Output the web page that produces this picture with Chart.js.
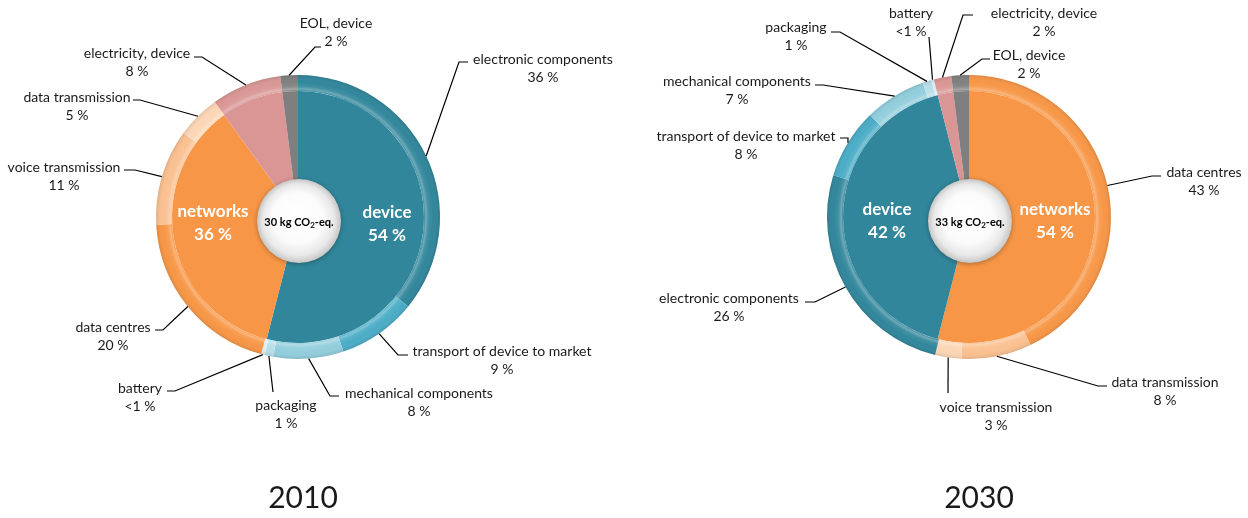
<!DOCTYPE html>
<html>
<head>
<meta charset="utf-8">
<script src="https://cdn.jsdelivr.net/npm/chart.js@4.4.1/dist/chart.umd.min.js"></script>
<style>
  body { margin: 0; background: #fff; width: 1248px; height: 518px; overflow: hidden; position: relative; font-family: Lato, sans-serif; }
  canvas { position: absolute; top: 0; }
  .year { position: absolute; top: 478px; width: 200px; text-align: center; font-size: 30px; color: #1a1a1a; }
</style>
</head>
<body>
<canvas id="pie2010" width="624" height="518" style="left:0"></canvas>
<canvas id="pie2030" width="624" height="518" style="left:624px"></canvas>
<div class="year" style="left:203px">2010</div>
<div class="year" style="left:879px">2030</div>

<script>
// ---- data: 2010 ----
const groups2010 = ['device', 'networks', 'electricity, device', 'EOL, device'];
const groupPct2010 = [54, 36, 8, 2];
const parts2010 = ['electronic components', 'transport of device to market', 'mechanical components',
  'packaging', 'battery', 'data centres', 'voice transmission', 'data transmission',
  'electricity, device', 'EOL, device'];
const partPct2010 = [36, 9, 8, 1, 0.4, 20, 11, 5, 8, 2];
const total2010 = '30';

// ---- data: 2030 ----
const groups2030 = ['networks', 'device', 'electricity, device', 'EOL, device'];
const groupPct2030 = [54, 42, 2, 2];
const parts2030 = ['data centres', 'data transmission', 'voice transmission', 'electronic components',
  'transport of device to market', 'mechanical components', 'packaging', 'battery',
  'electricity, device', 'EOL, device'];
const partPct2030 = [43, 8, 3, 26, 8, 7, 1, 0.3, 2, 2];
const total2030 = '33';

// colours
const TEAL = '#31869b', ORANGE = '#f79646', PINK = '#d99694', GREY = '#7f7f7f';
const groupColors2010 = [TEAL, ORANGE, PINK, GREY];
const partColors2010 = [TEAL, '#4bacc6', '#92cddc', '#b7dee8', '#daeef3', ORANGE, '#fac090', '#fcd5b4', PINK, GREY];
const groupColors2030 = [ORANGE, TEAL, PINK, GREY];
const partColors2030 = [ORANGE, '#fac090', '#fcd5b4', TEAL, '#4bacc6', '#92cddc', '#b7dee8', '#daeef3', PINK, GREY];

// label layout (page coords): t = text centre of first line, e = elbow, s = stub end x
const layout2010 = [
  { t: [543, 59], e: [459, 62], s: 468 },
  { t: [502, 351], e: [398, 355], s: 408 },
  { t: [419, 393], e: [330, 396], s: 339 },
  { t: [286, 405], e: [273, 392], s: 273 },
  { t: [140, 388], e: [175, 391], s: 167 },
  { t: [113, 327], e: [163, 330], s: 155 },
  { t: [64, 167], e: [135, 170], s: 124 },
  { t: [77, 97], e: [140, 100], s: 133 },
  { t: [137, 53], e: [202, 57], s: 194 },
  { t: [336, 23], e: [315, 47], s: 321 }
];
const layout2030 = [
  { t: [1204, 172], e: [1152, 176], s: 1161 },
  { t: [1165, 382], e: [1098, 386], s: 1107 },
  { t: [996, 407], e: [948, 393], s: 948 },
  { t: [729, 298], e: [815, 302], s: 805 },
  { t: [746, 136], e: [848, 138], s: 840 },
  { t: [737, 81], e: [823, 85], s: 815 },
  { t: [796, 27], e: [840, 32], s: 831 },
  { t: [911, 13], e: [929, 37], s: 929 },
  { t: [1044, 13], e: [963, 15], s: 973 },
  { t: [1029, 55], e: [982, 59], s: 990 }
];
const inner2010 = [[387, 213], [213, 212], null, null];
const inner2030 = [[1055, 210], [887, 210], null, null];

function pctText(v) {
  return v < 1 ? '<1 %' : Math.round(v) + ' %';
}

// draws ring shading, the centre disc and all text
const decor = {
  id: 'decor',
  afterDatasetsDraw(chart, args, opts) {
    const ctx = chart.ctx;
    const ring = chart.getDatasetMeta(0).data[0].getProps(['x', 'y', 'innerRadius', 'outerRadius']);
    const cx = ring.x, cy = ring.y;

    // glossy ring
    ctx.save();
    const g = ctx.createRadialGradient(cx, cy, ring.innerRadius, cx, cy, ring.outerRadius);
    g.addColorStop(0, 'rgba(255,255,255,0.08)');
    g.addColorStop(0.12, 'rgba(255,255,255,0.3)');
    g.addColorStop(0.3, 'rgba(255,255,255,0.08)');
    g.addColorStop(0.6, 'rgba(255,255,255,0)');
    g.addColorStop(1, 'rgba(0,0,0,0.1)');
    ctx.beginPath();
    ctx.arc(cx, cy, ring.outerRadius, 0, Math.PI * 2);
    ctx.arc(cx, cy, ring.innerRadius, 0, Math.PI * 2, true);
    ctx.fillStyle = g;
    ctx.fill();
    ctx.restore();

    // centre disc
    const dx = cx + 1, dy = cy + 4, dr = 42;
    ctx.save();
    ctx.shadowColor = 'rgba(0,0,0,0.3)';
    ctx.shadowBlur = 5;
    ctx.shadowOffsetY = 1;
    const dg = ctx.createRadialGradient(dx - 4, dy - 8, 0, dx, dy, dr);
    dg.addColorStop(0, '#ffffff');
    dg.addColorStop(0.6, '#fbfbfb');
    dg.addColorStop(0.85, '#e8e8e8');
    dg.addColorStop(1, '#c6c6c6');
    ctx.beginPath();
    ctx.arc(dx, dy, dr, 0, Math.PI * 2);
    ctx.fillStyle = dg;
    ctx.fill();
    ctx.restore();

    // centre text with subscript
    ctx.save();
    ctx.fillStyle = '#000';
    ctx.textBaseline = 'middle';
    ctx.textAlign = 'left';
    const a = opts.total + ' kg CO', b = '2', c = '-eq.';
    ctx.font = 'bold 11px Lato';
    const wa = ctx.measureText(a).width, wc = ctx.measureText(c).width;
    ctx.font = 'bold 8px Lato';
    const wb = ctx.measureText(b).width;
    let x0 = dx - (wa + wb + wc) / 2;
    const ty = cy + 5;
    ctx.font = 'bold 11px Lato';
    ctx.fillText(a, x0, ty);
    ctx.font = 'bold 8px Lato';
    ctx.fillText(b, x0 + wa, ty + 3);
    ctx.font = 'bold 11px Lato';
    ctx.fillText(c, x0 + wa + wb, ty);
    ctx.restore();

    // group labels inside the pie
    ctx.save();
    ctx.fillStyle = '#fff';
    ctx.textAlign = 'center';
    ctx.textBaseline = 'middle';
    ctx.font = 'bold 17px Lato';
    opts.groups.forEach((name, i) => {
      const p = opts.inner[i];
      if (!p) return;
      ctx.fillText(name, p[0] - opts.offset, p[1]);
      ctx.fillText(pctText(opts.groupPct[i]), p[0] - opts.offset, p[1] + 23);
    });
    ctx.restore();

    // outer labels with leader lines
    ctx.save();
    ctx.strokeStyle = '#000';
    ctx.lineWidth = 1.2;
    ctx.fillStyle = '#1a1a1a';
    ctx.textAlign = 'center';
    ctx.textBaseline = 'middle';
    ctx.font = '14px Lato';
    const arcs = chart.getDatasetMeta(0).data;
    opts.parts.forEach((name, i) => {
      const L = opts.layout[i];
      const p = arcs[i].getProps(['x', 'y', 'startAngle', 'endAngle', 'outerRadius']);
      const mid = (p.startAngle + p.endAngle) / 2;
      const sx = p.x + Math.cos(mid) * p.outerRadius;
      const sy = p.y + Math.sin(mid) * p.outerRadius;
      ctx.beginPath();
      ctx.moveTo(sx, sy);
      ctx.lineTo(L.e[0] - opts.offset, L.e[1]);
      ctx.lineTo(L.s - opts.offset, L.e[1]);
      ctx.stroke();
      ctx.fillText(name, L.t[0] - opts.offset, L.t[1]);
      ctx.fillText(pctText(opts.partPct[i]), L.t[0] - opts.offset, L.t[1] + 18);
    });
    ctx.restore();
  }
};

function makePie(id, offset, padding, cfg) {
  return new Chart(document.getElementById(id), {
    type: 'doughnut',
    data: {
      labels: cfg.parts,
      datasets: [
        { data: cfg.partPct, backgroundColor: cfg.partColors, borderWidth: 0, weight: 16 },
        { data: cfg.groupPct, backgroundColor: cfg.groupColors, borderWidth: 0, weight: 126 }
      ]
    },
    options: {
      responsive: false,
      animation: false,
      events: [],
      radius: 142,
      cutout: 0,
      layout: { padding: padding },
      plugins: {
        legend: { display: false },
        tooltip: { enabled: false },
        decor: {
          offset: offset, total: cfg.total, groups: cfg.groups, groupPct: cfg.groupPct,
          parts: cfg.parts, partPct: cfg.partPct, layout: cfg.layout, inner: cfg.inner
        }
      }
    },
    plugins: [decor]
  });
}

makePie('pie2010', 0, { left: 0, right: 28, top: 0, bottom: 84 }, {
  groups: groups2010, groupPct: groupPct2010, parts: parts2010, partPct: partPct2010,
  groupColors: groupColors2010, partColors: partColors2010, total: total2010,
  layout: layout2010, inner: inner2010
});
makePie('pie2030', 624, { left: 66, right: 0, top: 0, bottom: 84 }, {
  groups: groups2030, groupPct: groupPct2030, parts: parts2030, partPct: partPct2030,
  groupColors: groupColors2030, partColors: partColors2030, total: total2030,
  layout: layout2030, inner: inner2030
});
</script>
</body>
</html>
